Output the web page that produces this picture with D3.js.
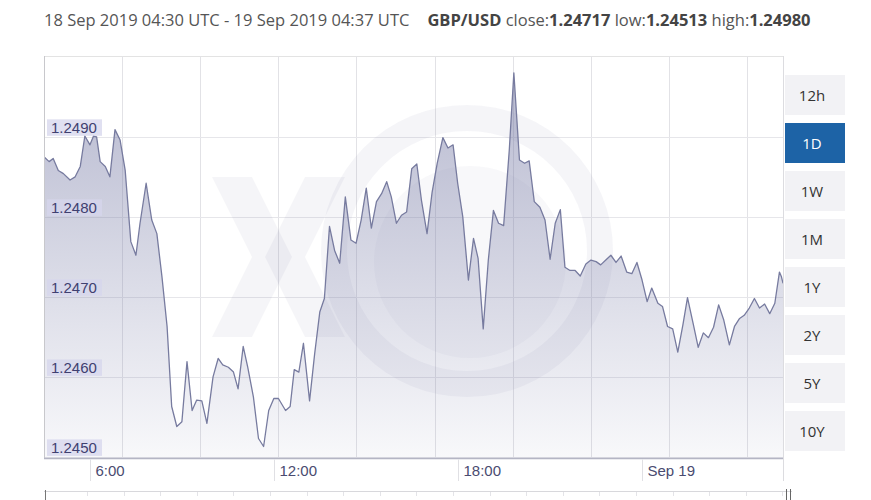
<!DOCTYPE html>
<html>
<head>
<meta charset="utf-8">
<script src="https://cdn.jsdelivr.net/npm/d3@7"></script>
<style>
  html, body { margin: 0; padding: 0; background: #ffffff; }
  svg { display: block; }
</style>
</head>
<body>
<svg id="chart" width="871" height="500"></svg>
<script>
// ---------------- DATA ----------------
const startTime = "2019-09-18T04:30:00Z";
const endTime = "2019-09-19T04:37:00Z";
// minutes since start
const minutes = [0,10,18,28,38,51,61,71,80,90,97,103,110,120,129,139,149,159,170,180,
  188,200,211,221,231,241,250,260,270,280,290,299,309,319,331,341,350,361,371,380,
  390,399,410,420,430,440,450,459,473,482,490,499,508,520,530,540,549,559,569,579,
  590,601,611,621,631,641,651,661,671,680,690,700,710,720,730,739,750,760,770,781,
  791,801,810,820,831,841,850,860,870,880,890,900,911,920,931,941,950,960,971,981,
  991,1001,1011,1020,1030,1040,1050,1061,1071,1081,1090,1100,1110,1120,1130,1141,1151,1161,1171,1181,
  1190,1202,1211,1221,1231,1241,1251,1260,1271,1281,1291,1301,1311,1321,1331,1342,1352,1362,1371,1381,
  1391,1401,1411,1421,1431,1440,1444,1447];
const rates = [1.24875,1.24869,1.24873,1.24858,1.24854,1.24846,1.24850,1.24863,1.24901,1.24890,
  1.24901,1.24900,1.24869,1.24863,1.24850,1.24909,1.24896,1.24858,1.24769,1.24752,
  1.24792,1.24842,1.24796,1.24779,1.24725,1.24663,1.24563,1.24538,1.24544,1.24619,
  1.24558,1.24571,1.24570,1.24542,1.24600,1.24623,1.24615,1.24612,1.24606,1.24585,
  1.24638,1.24612,1.24575,1.24523,1.24513,1.24558,1.24573,1.24573,1.24558,1.24563,
  1.24609,1.24606,1.24642,1.24570,1.24629,1.24681,1.24698,1.24788,1.24758,1.24742,
  1.24825,1.24771,1.24767,1.24796,1.24836,1.24786,1.24819,1.24829,1.24844,1.24825,
  1.24792,1.24802,1.24806,1.24860,1.24866,1.24821,1.24779,1.24831,1.24867,1.24899,
  1.24886,1.24890,1.24842,1.24800,1.24721,1.24773,1.24748,1.24660,1.24746,1.24808,
  1.24792,1.24789,1.24883,1.24980,1.24871,1.24867,1.24870,1.24819,1.24812,1.24796,
  1.24747,1.24792,1.24809,1.24737,1.24733,1.24733,1.24726,1.24741,1.24746,1.24744,
  1.24740,1.24746,1.24752,1.24743,1.24751,1.24731,1.24729,1.24743,1.24721,1.24694,
  1.24711,1.24692,1.24688,1.24663,1.24660,1.24631,1.24665,1.24699,1.24667,1.24637,
  1.24655,1.24649,1.24662,1.24690,1.24671,1.24640,1.24663,1.24673,1.24677,1.24686,
  1.24698,1.24686,1.24691,1.24679,1.24692,1.24731,1.24725,1.24717];
const yTickValues = [1.2450, 1.2460, 1.2470, 1.2480, 1.2490];
const yTickLabels = ["1.2450", "1.2460", "1.2470", "1.2480", "1.2490"];
const xTickTimes = ["2019-09-18T06:00:00Z", "2019-09-18T12:00:00Z", "2019-09-18T18:00:00Z", "2019-09-19T00:00:00Z"];
const xTickLabels = ["6:00", "12:00", "18:00", "Sep 19"];
const rangeButtons = ["12h", "1D", "1W", "1M", "1Y", "2Y", "5Y", "10Y"];
const activeButton = "1D";
const titleRange = "18 Sep 2019 04:30 UTC - 19 Sep 2019 04:37 UTC";
const pair = "GBP/USD";
const statNames = ["close:", "low:", "high:"];
const statValues = ["1.24717", "1.24513", "1.24980"];

// ---------------- LAYOUT ----------------
const L = 44, R = 783, T = 56, B = 458.5;
const svg = d3.select("#chart");

const t0 = new Date(startTime), t1 = new Date(endTime);
const points = minutes.map((m, i) => ({ t: new Date(t0.getTime() + m * 60000), v: rates[i] }));

const x = d3.scaleUtc().domain([t0, t1]).range([L, R]);
const y = d3.scaleLinear().domain([1.24498, 1.25001]).range([B, T]);

// defs
const defs = svg.append("defs");
const grad = defs.append("linearGradient").attr("id", "areaGrad")
  .attr("gradientUnits", "userSpaceOnUse").attr("x1", 0).attr("x2", 0).attr("y1", T).attr("y2", B);
grad.append("stop").attr("offset", 0).attr("stop-color", "rgb(118,122,165)").attr("stop-opacity", 0.55);
grad.append("stop").attr("offset", 0.55).attr("stop-color", "rgb(118,122,165)").attr("stop-opacity", 0.27);
grad.append("stop").attr("offset", 1).attr("stop-color", "rgb(118,122,165)").attr("stop-opacity", 0.05);
defs.append("clipPath").attr("id", "plotClip").append("rect")
  .attr("x", L).attr("y", T).attr("width", R - L).attr("height", B - T);

// ---------------- TITLE ----------------
const title = svg.append("text").attr("x", L).attr("y", 26)
  .style("font-family", "'Open Sans', sans-serif").style("font-size", "16.5px").attr("fill", "#555");
title.append("tspan").text(titleRange);
title.append("tspan").attr("dx", 18).attr("font-weight", "bold").attr("fill", "#444").text(pair);
statNames.forEach((n, i) => {
  title.append("tspan").attr("fill", "#555").text(" " + n);
  title.append("tspan").attr("font-weight", "bold").attr("fill", "#444").text(statValues[i]);
});

// ---------------- GRID ----------------
const grid = svg.append("g");
// frame
grid.append("line").attr("x1", L).attr("x2", R).attr("y1", T + 0.5).attr("y2", T + 0.5).attr("stroke", "#e3e3e3");
// vertical grid lines (evenly spaced)
const vStep = 78.1;
d3.range(L + vStep, R, vStep).forEach(gx => {
  grid.append("line").attr("x1", Math.round(gx) + 0.5).attr("x2", Math.round(gx) + 0.5)
    .attr("y1", T).attr("y2", B).attr("stroke", "#e2e2e6");
});
yTickValues.forEach(v => {
  grid.append("line").attr("x1", L).attr("x2", R)
    .attr("y1", Math.round(y(v)) + 0.5).attr("y2", Math.round(y(v)) + 0.5).attr("stroke", "#e6e6ea");
});

// ---------------- WATERMARK ----------------
const wm = svg.append("g").attr("clip-path", "url(#plotClip)").attr("fill", "rgb(120,120,150)").attr("fill-opacity", 0.07);
const ring = d3.arc().innerRadius(120).outerRadius(146).startAngle(0).endAngle(2 * Math.PI);
wm.append("path").attr("d", ring()).attr("transform", "translate(467,251)");
wm.append("circle").attr("cx", 470).attr("cy", 262).attr("r", 96).attr("fill-opacity", 0.05);
wm.append("path").attr("d", "M212,177 L252,177 L292,257 L252,337 L212,337 L252,257 Z");
wm.append("path").attr("d", "M345,177 L305,177 L265,257 L305,337 L345,337 L305,257 Z");

// ---------------- AREA + LINE ----------------
const area = d3.area().x(d => x(d.t)).y0(B).y1(d => y(d.v));
const line = d3.line().x(d => x(d.t)).y(d => y(d.v));
const plot = svg.append("g").attr("clip-path", "url(#plotClip)");
plot.append("path").datum(points).attr("d", area).attr("fill", "url(#areaGrad)");
plot.append("path").datum(points).attr("d", line).attr("fill", "none")
  .attr("stroke", "#777b9f").attr("stroke-width", 1.3).attr("stroke-linejoin", "round");

// borders
svg.append("line").attr("x1", L + 0.5).attr("x2", L + 0.5).attr("y1", T).attr("y2", B).attr("stroke", "#c8c8cc");
svg.append("line").attr("x1", R + 0.5).attr("x2", R + 0.5).attr("y1", T).attr("y2", 481).attr("stroke", "#dcdce0");
svg.append("line").attr("x1", L).attr("x2", R).attr("y1", B).attr("y2", B).attr("stroke", "#b4b5c4").attr("stroke-width", 1.5);

// ---------------- Y LABELS ----------------
const yl = svg.append("g");
yTickValues.forEach((v, i) => {
  const gy = y(v);
  yl.append("rect").attr("x", 47).attr("y", gy - 17.5).attr("width", 55).attr("height", 16.5)
    .attr("fill", "rgb(214,214,236)").attr("fill-opacity", 0.75);
  yl.append("text").attr("x", 51).attr("y", gy - 3.5).text(yTickLabels[i])
    .style("font-family", "'Liberation Sans', Arial, sans-serif").style("font-size", "15px").attr("fill", "#3f4070");
});

// ---------------- X LABELS ----------------
const xl = svg.append("g");
xTickTimes.forEach((tt, i) => {
  const gx = Math.round(x(new Date(tt))) + 0.5;
  xl.append("line").attr("x1", gx).attr("x2", gx).attr("y1", B + 1).attr("y2", 481).attr("stroke", "#e0e0e4");
  xl.append("text").attr("x", gx + 5).attr("y", 476).text(xTickLabels[i])
    .style("font-family", "'Liberation Sans', Arial, sans-serif").style("font-size", "15px").attr("fill", "#4a4b70");
});

// ---------------- NAVIGATOR STRIP ----------------
const nav = svg.append("g");
nav.append("line").attr("x1", L).attr("x2", 792).attr("y1", 491.5).attr("y2", 491.5).attr("stroke", "#d8d8dc");
d3.range(L + 43, 783, 36.6).forEach(nx => {
  nav.append("line").attr("x1", Math.round(nx) + 0.5).attr("x2", Math.round(nx) + 0.5)
    .attr("y1", 492).attr("y2", 496).attr("stroke", "#e4e4e8");
});
nav.append("line").attr("x1", 45.5).attr("x2", 45.5).attr("y1", 490).attr("y2", 500).attr("stroke", "#777");
[786.5, 790.5].forEach(hx => nav.append("line").attr("x1", hx).attr("x2", hx).attr("y1", 489).attr("y2", 500).attr("stroke", "#666"));

// ---------------- RANGE BUTTONS ----------------
const btn = svg.append("g");
rangeButtons.forEach((b, i) => {
  const by = 75 + i * 48;
  const active = b === activeButton;
  btn.append("rect").attr("x", 785).attr("y", by).attr("width", 60).attr("height", 40)
    .attr("fill", active ? "#1d63a6" : "#f2f2f5");
  btn.append("text").attr("x", 812).attr("y", by + 26).attr("text-anchor", "middle").text(b)
    .style("font-family", "'Open Sans', sans-serif").style("font-size", "15px")
    .attr("fill", active ? "#ffffff" : "#333");
});
</script>
</body>
</html>
